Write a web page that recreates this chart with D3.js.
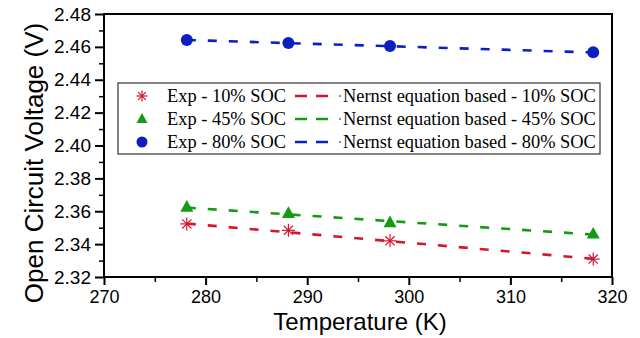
<!DOCTYPE html>
<html><head><meta charset="utf-8">
<script src="https://cdn.jsdelivr.net/npm/d3@7"></script>
<style>body{margin:0;background:#fff}svg{display:block}</style>
</head><body>
<svg id="c" width="640" height="338"></svg>
<script>
const temps = [278.15, 288.15, 298.15, 318.15];
const exp10 = [2.3523, 2.3484, 2.3420, 2.3309];
const exp45 = [2.3625, 2.3588, 2.3531, 2.3462];
const exp80 = [2.4642, 2.4624, 2.4605, 2.4568];
const nernst10 = [2.3525, 2.3472, 2.3418, 2.3311];
const nernst45 = [2.3622, 2.3581, 2.3540, 2.3458];
const nernst80 = [2.4642, 2.4623, 2.4604, 2.4566];
const xTicks = [270, 280, 290, 300, 310, 320];
const yTicks = [2.32, 2.34, 2.36, 2.38, 2.40, 2.42, 2.44, 2.46, 2.48];
const seriesNames = ["10% SOC", "45% SOC", "80% SOC"];
const colors = ["#d4152b", "#149a14", "#0b20c0"];

const svg = d3.select("#c");
const L = 104, R = 612, T = 14, B = 277;
const x = d3.scaleLinear().domain([270, 320]).range([L, R]);
const y = d3.scaleLinear().domain([2.32, 2.48]).range([B, T]);

// frame
svg.append("rect").attr("x", L).attr("y", T).attr("width", R - L).attr("height", B - T)
  .attr("fill", "none").attr("stroke", "#000").attr("stroke-width", 2);

// x axis
const xa = svg.append("g").attr("transform", `translate(0,${B})`)
  .call(d3.axisBottom(x).tickValues(xTicks).tickFormat(d3.format("d")).tickSize(8).tickPadding(5));
xa.select(".domain").remove();
xa.selectAll("line").attr("stroke-width", 2);
xa.selectAll("text").attr("font-family", "Liberation Sans, Arial, sans-serif").attr("font-size", 18).attr("fill", "#000");
const xm = svg.append("g").attr("transform", `translate(0,${B})`)
  .call(d3.axisBottom(x).tickValues(d3.range(275, 320, 10)).tickFormat("").tickSize(5));
xm.select(".domain").remove();
xm.selectAll("line").attr("stroke-width", 1.5);

// y axis
const ya = svg.append("g").attr("transform", `translate(${L},0)`)
  .call(d3.axisLeft(y).tickValues(yTicks).tickFormat(d3.format(".2f")).tickSize(9).tickPadding(4));
ya.select(".domain").remove();
ya.selectAll("line").attr("stroke-width", 2);
ya.selectAll("text").attr("font-family", "Liberation Sans, Arial, sans-serif").attr("font-size", 19).attr("fill", "#000");
const ym = svg.append("g").attr("transform", `translate(${L},0)`)
  .call(d3.axisLeft(y).tickValues(d3.range(2.33, 2.48, 0.02)).tickFormat("").tickSize(5));
ym.select(".domain").remove();
ym.selectAll("line").attr("stroke-width", 1.5);

// titles
svg.append("text").attr("x", 360).attr("y", 330).attr("text-anchor", "middle")
  .attr("font-family", "Liberation Sans, Arial, sans-serif").attr("font-size", 24).text("Temperature (K)");
svg.append("text").attr("transform", "translate(43,163) rotate(-90)").attr("text-anchor", "middle")
  .attr("font-family", "Liberation Sans, Arial, sans-serif").attr("font-size", 26).text("Open Circuit Voltage (V)");

const nernst = [nernst10, nernst45, nernst80];
const exps = [exp10, exp45, exp80];
const line = d3.line().x(d => x(d[0])).y(d => y(d[1]));

nernst.forEach((vals, i) => {
  svg.append("path").datum(temps.map((t, k) => [t, vals[k]]))
    .attr("d", line).attr("fill", "none").attr("stroke", colors[i])
    .attr("stroke-width", 2.6).attr("stroke-dasharray", "9,12");
});

function marker(g, i, cx, cy, s) {
  if (i === 0) {
    const r = s / 2;
    [[0, 1], [1, 0], [0.707, 0.707], [0.707, -0.707]].forEach(([dx, dy]) => {
      g.append("line").attr("x1", cx - dx * r).attr("y1", cy - dy * r)
        .attr("x2", cx + dx * r).attr("y2", cy + dy * r)
        .attr("stroke", colors[0]).attr("stroke-width", 1.2);
    });
  } else if (i === 1) {
    const h = s * 0.9, w = s;
    g.append("path").attr("d", `M${cx},${cy - h * 0.6}L${cx + w / 2},${cy + h * 0.4}L${cx - w / 2},${cy + h * 0.4}Z`)
      .attr("fill", colors[1]);
  } else {
    g.append("circle").attr("cx", cx).attr("cy", cy).attr("r", s / 2).attr("fill", colors[2]);
  }
}

exps.forEach((vals, i) => {
  const g = svg.append("g");
  temps.forEach((t, k) => marker(g, i, x(t), y(vals[k]), i === 0 ? 13 : (i === 1 ? 13 : 12)));
});

// legend
const lg = svg.append("g");
lg.append("rect").attr("x", 118).attr("y", 83).attr("width", 482).attr("height", 71)
  .attr("fill", "#fff").attr("stroke", "#333").attr("stroke-width", 1.2);
const rowY = [96, 119, 142];
seriesNames.forEach((n, i) => {
  const cy = rowY[i];
  marker(lg, i, 142, cy, 11);
  lg.append("text").attr("x", 167).attr("y", cy + 6).attr("font-family", "Liberation Serif, Times New Roman, serif")
    .attr("font-size", 18.4).text("Exp - " + n);
  lg.append("line").attr("x1", 295).attr("x2", 328).attr("y1", cy).attr("y2", cy)
    .attr("stroke", colors[i]).attr("stroke-width", 2.4).attr("stroke-dasharray", "12,9");
  lg.append("circle").attr("cx", 340).attr("cy", cy).attr("r", 0.9).attr("fill", "#555");
  lg.append("text").attr("x", 343).attr("y", cy + 6).attr("font-family", "Liberation Serif, Times New Roman, serif")
    .attr("font-size", 18.4).text("Nernst equation based - " + n);
});
</script>
</body></html>
